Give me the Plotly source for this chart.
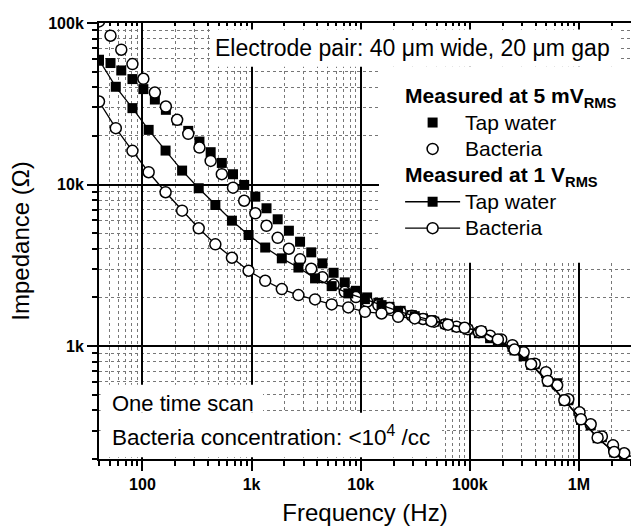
import plotly.graph_objects as go

# ---------------- data ----------------
# 5 mV_RMS sweep (10 points per decade, 40 Hz .. 3 MHz)
freq_5mV = [40, 51, 64, 81, 102, 130, 164, 208, 263, 333, 422, 534, 676, 856, 1083,
            1371, 1736, 2198, 2783, 3523, 4460, 5646, 7148, 9049, 11456, 14503,
            18361, 23244, 29427, 37254, 47163, 59708, 75589, 95694, 121147, 153369,
            194162, 245806, 311186, 393957, 498744, 631399, 799337, 1011944,
            1281100, 1621847, 2053227, 2599344, 3000000]
tap_5mV = [58400, 56500, 50840, 44960, 38970, 33600, 29010, 24960, 21490, 18450,
           15860, 13610, 11580, 9943, 8414, 7131, 6094, 5178, 4426, 3804, 3252,
           2843, 2480, 2199, 2001, 1853, 1750, 1653, 1555, 1483, 1417, 1367, 1310,
           1264, 1202, 1119, 1072, 990, 865, 772, 679, 589, 462, 384, 323, 273,
           240, 214, 191]
bac_5mV = [102300, 83420, 68320, 55690, 45150, 37120, 30400, 25150, 20590, 16930,
           14010, 11600, 9568, 7936, 6640, 5555, 4680, 4004, 3443, 3010, 2663,
           2403, 2168, 2010, 1885, 1793, 1718, 1623, 1543, 1472, 1417, 1367, 1319,
           1273, 1220, 1160, 1099, 1013, 917, 778, 689, 572, 469, 389, 328, 276,
           243, 217, 193]

# 1 V_RMS sweep (33 points, 40 Hz .. 3 MHz)
freq_1V = [40, 57, 81, 114, 163, 231, 328, 466, 661, 939, 1334, 1894, 2689, 3818,
           5423, 7700, 10935, 15530, 22050, 31310, 44460, 63140, 89660, 127300,
           180800, 256700, 364500, 517700, 735100, 1044000, 1483000, 2106000,
           2990000]
tap_1V = [59230, 40290, 29720, 21800, 16230, 12200, 9486, 7472, 5975, 4870, 4074,
          3492, 3063, 2625, 2351, 2119, 1954, 1793, 1646, 1532, 1447, 1367, 1297,
          1237, 1085, 940, 765, 602, 458, 349, 269, 220, 183]
bac_1V = [32650, 22330, 16160, 11920, 8963, 6890, 5360, 4265, 3523, 2926, 2537,
          2253, 2068, 1945, 1811, 1735, 1629, 1592, 1517, 1483, 1426, 1357, 1297,
          1237, 1099, 952, 772, 609, 462, 352, 271, 221, 183]

x_tickvals = [100, 1000, 10000, 100000, 1000000]
x_ticktext = ["100", "1k", "10k", "100k", "1M"]
y_tickvals = [1000, 10000, 100000]
y_ticktext = ["1k", "10k", "100k"]

FONT = "Liberation Sans, Arial, sans-serif"
X_RANGE = [1.60206, 6.47712]


def big(s, size=21):
    return '<span style="font-size:%dpx">%s</span>' % (size, s)


fig = go.Figure()

sq_fill = dict(symbol="square", size=10, color="black", line=dict(color="black", width=0))
circ_open = dict(symbol="circle", size=11, color="white", line=dict(color="black", width=1.5))

fig.add_trace(go.Scatter(
    x=freq_5mV, y=tap_5mV, mode="markers", marker=sq_fill, name=big("Tap water"),
    legendgroup="g1",
    legendgrouptitle=dict(text="<b>" + big("Measured at 5 mV<sub>RMS</sub>", 21) + "</b>")))
fig.add_trace(go.Scatter(
    x=freq_5mV, y=bac_5mV, mode="markers", marker=circ_open, name=big("Bacteria"),
    legendgroup="g1"))
fig.add_trace(go.Scatter(
    x=freq_1V, y=tap_1V, mode="lines+markers", marker=sq_fill,
    line=dict(color="black", width=1.3), name=big("Tap water"),
    legendgroup="g2",
    legendgrouptitle=dict(text="<b>" + big("Measured at 1 V<sub>RMS</sub>", 21) + "</b>")))
fig.add_trace(go.Scatter(
    x=freq_1V, y=bac_1V, mode="lines+markers", marker=circ_open,
    line=dict(color="black", width=1.3), name=big("Bacteria"),
    legendgroup="g2"))
# empty trace so that the top (inward-tick) axis is drawn
fig.add_trace(go.Scatter(x=[], y=[], xaxis="x2", yaxis="y", showlegend=False,
                         hoverinfo="skip"))

x_minor = [m * 10 ** e for e in range(1, 7) for m in range(2, 10)]
y_minor = [m * 10 ** e for e in range(2, 5) for m in range(2, 10)]

axis_common = dict(
    showline=True, linewidth=2, linecolor="black", automargin=False,
    ticks="outside", ticklen=10, tickwidth=2, tickcolor="black",
    showgrid=True, gridcolor="black", gridwidth=1.5, zeroline=False,
    tickfont=dict(family=FONT, size=16, color="black", weight="bold"),
)

fig.update_xaxes(
    type="log", range=X_RANGE,
    tickmode="array", tickvals=x_tickvals, ticktext=x_ticktext,
    mirror=True,
    minor=dict(tickmode="array", tickvals=x_minor, ticks="outside", ticklen=5,
               tickwidth=2, tickcolor="black", showgrid=True, gridcolor="#777777",
               griddash="dot", gridwidth=1),
    title=dict(text="Frequency (Hz)", font=dict(family=FONT, size=24, color="black"),
               standoff=12),
    selector=dict(), row=None, col=None,
    **axis_common)
fig.update_yaxes(
    type="log", range=[2.30103, 5.0],
    tickmode="array", tickvals=y_tickvals, ticktext=y_ticktext,
    minor=dict(tickmode="array", tickvals=y_minor, ticks="outside", ticklen=5,
               tickwidth=2, tickcolor="black", showgrid=True, gridcolor="#777777",
               griddash="dot", gridwidth=1),
    title=dict(text="Impedance (Ω)", font=dict(family=FONT, size=24, color="black"),
               standoff=12),
    **axis_common)

# top axis: inward ticks only
fig.update_layout(xaxis2=dict(
    overlaying="x", side="top", anchor="y", type="log", range=X_RANGE,
    tickmode="array", tickvals=x_tickvals, showticklabels=False,
    ticks="inside", ticklen=5, tickwidth=1.5, tickcolor="black",
    showgrid=False, zeroline=False, showline=False, automargin=False,
    title=dict(text=""), mirror=False,
    minor=dict(tickmode="array", tickvals=x_minor, ticks="inside", ticklen=2.5,
               tickwidth=1.5, tickcolor="black", showgrid=False),
))

# white panels that hide the grid behind the texts
boxes = [
    (0.2086, 0.9756, 0.8998, 0.985),
    (0.5263, 1.0, 0.4502, 0.8998),
    (0.003, 0.3083, 0.1062, 0.1704),
    (0.003, 0.6447, 0.004, 0.1062),
]
for x0, x1, y0, y1 in boxes:
    fig.add_shape(type="rect", xref="paper", yref="paper", x0=x0, x1=x1, y0=y0, y1=y1,
                  fillcolor="white", line=dict(width=0), layer="above")

fig.add_annotation(xref="paper", yref="paper", x=0.5902, y=0.943,
                   text="Electrode pair: 40 μm wide, 20 μm gap", showarrow=False,
                   xanchor="center", yanchor="middle",
                   font=dict(family=FONT, size=23, color="black"))
fig.add_annotation(xref="paper", yref="paper", x=0.02, y=0.1284,
                   text="One time scan", showarrow=False,
                   xanchor="left", yanchor="middle",
                   font=dict(family=FONT, size=22, color="black"))
fig.add_annotation(xref="paper", yref="paper", x=0.02, y=0.052,
                   text="Bacteria concentration: <10<sup>4</sup> /cc", showarrow=False,
                   xanchor="left", yanchor="middle",
                   font=dict(family=FONT, size=22.5, color="black"))

fig.update_layout(
    width=631, height=527,
    margin=dict(l=99, r=0, t=23, b=68, autoexpand=False),
    paper_bgcolor="white", plot_bgcolor="white",
    font=dict(family=FONT, color="black"),
    showlegend=True,
    legend=dict(x=0.566, y=0.874, xanchor="left", yanchor="top",
                bgcolor="rgba(0,0,0,0)", borderwidth=0,
                font=dict(family=FONT, size=18, color="black"),
                grouptitlefont=dict(family=FONT, size=18, color="black"),
                tracegroupgap=0, traceorder="grouped", itemwidth=55),
)

fig.write_html("out.html", config={"displayModeBar": False},
               post_script="document.body.style.margin='0';document.body.style.overflow='hidden';")
